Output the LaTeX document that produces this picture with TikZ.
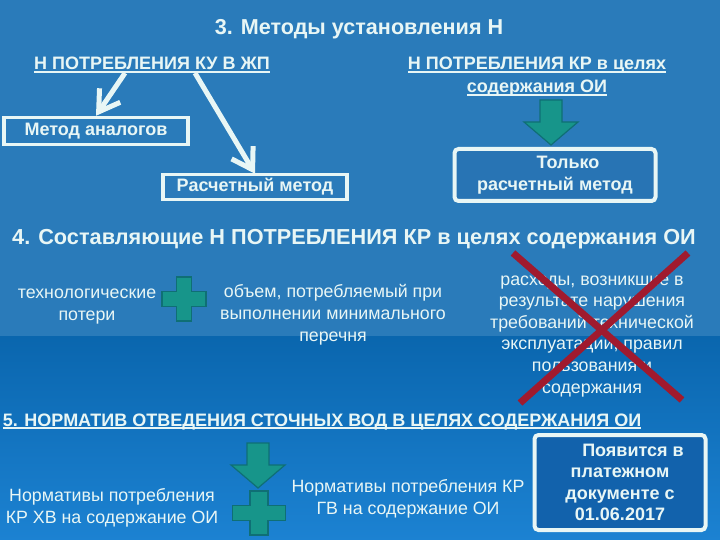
\documentclass[tikz,border=0pt]{standalone}
\usepackage{fontspec}
\setmainfont{Liberation Sans}
\usetikzlibrary{arrows.meta}

\definecolor{bgtop}{HTML}{2A7BBA}
\definecolor{bgdeep}{HTML}{0A66AE}
\definecolor{bglow}{HTML}{1C82D2}
\definecolor{txt}{HTML}{E8F6F5}
\definecolor{tealfill}{HTML}{17958A}
\definecolor{tealedge}{HTML}{0F6F75}
\definecolor{crossred}{HTML}{A01A2E}
\definecolor{boxfill}{HTML}{1262AC}
\definecolor{boxtop}{HTML}{2874B4}

\newcommand{\fsz}[2]{\fontsize{#1}{#2}\selectfont}
\newsavebox{\undlbox}
\newcommand{\undl}[1]{\sbox{\undlbox}{#1}\rlap{\usebox{\undlbox}}\rule[-2.8pt]{\wd\undlbox}{1.4pt}}

\tikzset{
  heading/.style={text=txt, font=\bfseries\fsz{21.6}{26}, inner sep=0, anchor=base},
  subhead/.style={text=txt, font=\bfseries\fsz{18}{23}, inner sep=0, anchor=base, align=center},
  body/.style={text=txt, font=\fsz{17.8}{21.6}, inner sep=0, anchor=base, align=center},
  methodbox/.style={draw=txt, line width=3.5, text=txt, font=\bfseries\fsz{18}{22}, minimum width=184, minimum height=27, inner sep=0},
  notebox/.style={draw=txt, line width=4, rounded corners=4, text=txt, fill=boxfill, font=\bfseries\fsz{18}{21.5}, align=center, inner sep=0},
  warr/.style={draw=txt, line width=5, -{Straight Barb[length=20pt,width=25pt]}},
  cross/.style={draw=crossred, line width=7},
  tealshape/.style={fill=tealfill, draw=tealedge, line width=1.2},
  blockarrow/.pic={
    \draw[tealshape] (-11,0) -- (11,0) -- (11,22) -- (27,22) -- (0,45) -- (-27,22) -- (-11,22) -- cycle;
  },
  plusmark/.pic={
    \draw[tealshape] (-7.5,-22) -- (7.5,-22) -- (7.5,-7.5) -- (22,-7.5) -- (22,7.5) -- (7.5,7.5)
      -- (7.5,22) -- (-7.5,22) -- (-7.5,7.5) -- (-22,7.5) -- (-22,-7.5) -- (-7.5,-7.5) -- cycle;
  },
}

\begin{document}
\begin{tikzpicture}[x=1pt, y=-1pt]
  \useasboundingbox (0,0) rectangle (720,540);
  \fill[bgtop] (0,0) rectangle (720,336);
  \shade[top color=bgdeep, bottom color=bglow] (0,336) rectangle (720,540);

  % 3
  \node[heading] (title3) at (359,35) {3. Методы установления Н};
  \node[subhead] (ku) at (152,70) {\undl{Н ПОТРЕБЛЕНИЯ КУ В ЖП}};
  \node[subhead] (kr) at (537,93) {\undl{Н ПОТРЕБЛЕНИЯ КР в целях}\\\undl{содержания ОИ}};
  \node[methodbox] (analog) at (96,131) {Метод аналогов};
  \node[methodbox, minimum height=25] (calc) at (255,187) {Расчетный метод};
  \node[notebox, fill=boxtop, minimum width=201, minimum height=52] (onlycalc) at (555,175) {\hspace*{26pt}Только\\расчетный метод};
  \draw[warr] ([xshift=-27]ku.south) -- (analog.north);
  \draw[warr] ([xshift=43]ku.south) -- ([yshift=-1]calc.north);
  \pic at (551,100) {blockarrow};

  % 4
  \node[heading, font=\bfseries\fsz{21.7}{26}] (title4) at (354,244) {4. Составляющие Н ПОТРЕБЛЕНИЯ КР в целях содержания ОИ};
  \node[body] (losses) at (87,320) {технологические\\потери};
  \pic at (184,299) {plusmark};
  \node[body] (volume) at (333,341) {объем, потребляемый при\\выполнении минимального\\перечня};
  \node[body] (costs) at (592,393) {расходы, возникшие в\\результате нарушения\\требований технической\\эксплуатации, правил\\пользования и\\содержания};
  \coordinate (xa) at (513,253);
  \coordinate (xb) at (682,400);
  \coordinate (xc) at (688,253);
  \coordinate (xd) at (520,403);
  \draw[cross] (xa) -- (xb);
  \draw[cross] (xc) -- (xd);

  % 5
  \node[subhead] (title5) at (322,426) {\undl{5. НОРМАТИВ ОТВЕДЕНИЯ СТОЧНЫХ ВОД В ЦЕЛЯХ СОДЕРЖАНИЯ ОИ}};
  \pic at (258,443) {blockarrow};
  \pic[xscale=1.2] at (259,513) {plusmark};
  \node[body] (coldwater) at (112,523) {Нормативы потребления\\КР ХВ на содержание ОИ};
  \node[body] (hotwater) at (408,514) {Нормативы потребления КР\\ГВ на содержание ОИ};
  \node[notebox, minimum width=171, minimum height=95] (notice) at (620,482.5) {\hspace*{26pt}Появится в\\платежном\\документе с\\01.06.2017};
\end{tikzpicture}
\end{document}
